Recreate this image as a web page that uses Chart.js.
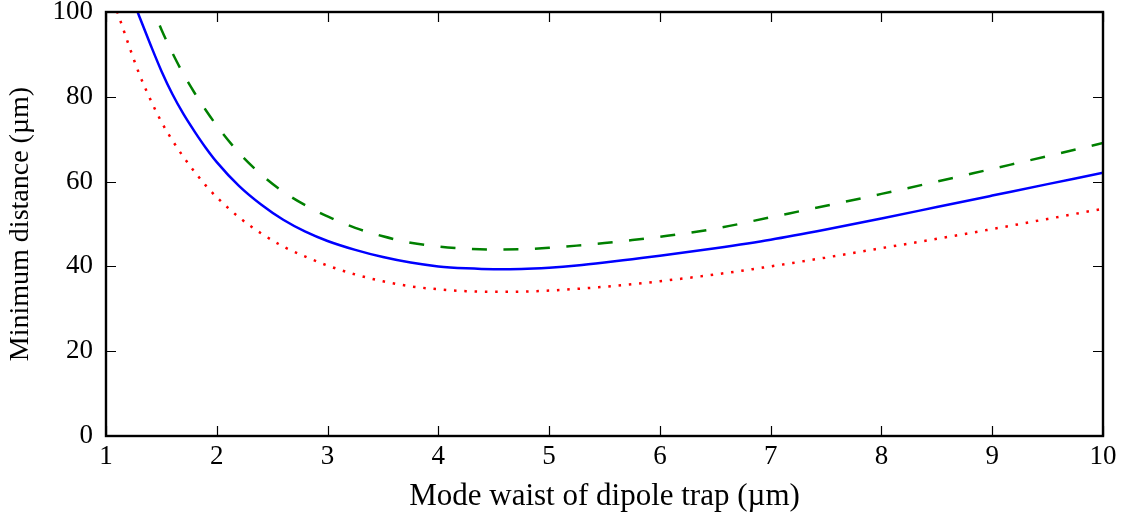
<!DOCTYPE html>
<html>
<head>
<meta charset="utf-8">
<script src="https://cdn.jsdelivr.net/npm/chart.js@4/dist/chart.umd.min.js"></script>
<style>
	html, body { margin: 0; padding: 0; background: #fff; }
	#wrap { width: 1128px; height: 521px; position: relative; }
</style>
</head>
<body>
<div id="wrap"><canvas id="chart"></canvas></div>
<script>
	'use strict';

	// waist values (µm) where the curves were read
	const blueX = [1.25, 1.3, 1.4, 1.5, 1.6, 1.7, 1.8, 1.9, 2.0, 2.2, 2.4, 2.6, 2.8, 3.0, 3.25, 3.5, 3.75, 4.0, 4.25, 4.5, 4.75, 5.0, 5.25, 5.5, 5.75, 6.0, 6.5, 7.0, 7.5, 8.0, 8.5, 9.0, 9.5, 10];
	const blueY = [102.4, 99.0, 92.4, 86.1, 80.6, 75.9, 71.8, 68.0, 64.6, 59.0, 54.6, 51.0, 48.2, 46.0, 43.9, 42.2, 40.9, 40.0, 39.55, 39.35, 39.4, 39.7, 40.2, 40.9, 41.7, 42.5, 44.3, 46.3, 48.7, 51.3, 54.0, 56.7, 59.4, 62.1];

	const greenX = [1.4, 1.5, 1.6, 1.7, 1.8, 1.9, 2.0, 2.2, 2.4, 2.6, 2.8, 3.0, 3.25, 3.5, 3.75, 4.0, 4.25, 4.5, 4.75, 5.0, 5.25, 5.5, 5.75, 6.0, 6.5, 7.0, 7.5, 8.0, 8.5, 9.0, 9.5, 10];
	const greenY = [102.3, 95.9, 90.3, 85.3, 80.9, 76.9, 73.2, 66.8, 61.7, 57.6, 54.4, 51.8, 49.1, 47.1, 45.6, 44.7, 44.2, 44.0, 44.05, 44.4, 44.9, 45.5, 46.2, 47.0, 48.9, 51.6, 54.3, 57.1, 60.0, 63.0, 66.0, 69.1];

	const redX = [1.1, 1.15, 1.2, 1.3, 1.4, 1.5, 1.6, 1.7, 1.8, 1.9, 2.0, 2.2, 2.4, 2.6, 2.8, 3.0, 3.25, 3.5, 3.75, 4.0, 4.25, 4.5, 4.75, 5.0, 5.25, 5.5, 5.75, 6.0, 6.5, 7.0, 7.5, 8.0, 8.5, 9.0, 9.5, 10];
	const redY = [100.2, 96.4, 92.6, 85.4, 79.4, 74.1, 69.7, 65.8, 62.3, 59.1, 56.3, 51.6, 47.8, 44.7, 42.3, 40.2, 38.1, 36.5, 35.3, 34.6, 34.15, 34.0, 34.05, 34.3, 34.7, 35.2, 35.8, 36.5, 38.1, 40.0, 42.1, 44.3, 46.5, 48.8, 51.2, 53.6];

	const xTicks = [1, 2, 3, 4, 5, 6, 7, 8, 9, 10];
	const yTicks = [0, 20, 40, 60, 80, 100];

	const pairs = (xs, ys) => xs.map((x, i) => ({ x, y: ys[i] }));

	Chart.defaults.font.family = "'Liberation Serif', 'DejaVu Serif', serif";
	Chart.defaults.color = '#000';

	// matplotlib-style box with inward ticks on all four sides
	const frame = {
		id: 'frame',
		afterDraw(chart) {
			const { ctx, chartArea: a, scales } = chart;
			const len = 10;
			ctx.save();
			ctx.strokeStyle = '#000';
			ctx.lineWidth = 1.2;
			ctx.beginPath();
			xTicks.forEach((v) => {
				const px = Math.round(scales.x.getPixelForValue(v)) + 0.5;
				ctx.moveTo(px, a.bottom); ctx.lineTo(px, a.bottom - len);
				ctx.moveTo(px, a.top); ctx.lineTo(px, a.top + len);
			});
			yTicks.forEach((v) => {
				const py = Math.round(scales.y.getPixelForValue(v)) + 0.5;
				ctx.moveTo(a.left, py); ctx.lineTo(a.left + len, py);
				ctx.moveTo(a.right, py); ctx.lineTo(a.right - len, py);
			});
			ctx.stroke();
			ctx.lineWidth = 2.4;
			ctx.strokeRect(a.left, a.top, a.right - a.left, a.bottom - a.top);
			ctx.restore();
		},
	};

	const line = (data, color, dash, offset) => ({
		data,
		borderColor: color,
		borderWidth: 2.5,
		borderDash: dash,
		borderDashOffset: offset || 0,
		borderCapStyle: 'butt',
		pointRadius: 0,
		cubicInterpolationMode: 'monotone',
		fill: false,
	});

	new Chart(document.getElementById('chart'), {
		type: 'line',
		data: {
			datasets: [
				line(pairs(greenX, greenY), '#008000', [15, 16.5], 6.5),
				line(pairs(blueX, blueY), '#0000ff', []),
				line(pairs(redX, redY), '#ff0000', [2.5, 7.8]),
			],
		},
		options: {
			responsive: true,
			maintainAspectRatio: false,
			animation: false,
			events: [],
			layout: { padding: { top: 12, right: 25, left: 0, bottom: 0 } },
			plugins: { legend: { display: false }, tooltip: { enabled: false } },
			scales: {
				x: {
					type: 'linear',
					min: 1,
					max: 10,
					afterBuildTicks: (s) => { s.ticks = xTicks.map((v) => ({ value: v })); },
					afterFit: (s) => { s.height = 85; s.paddingLeft = 0; s.paddingRight = 0; },
					grid: { display: false, drawTicks: false },
					border: { display: false },
					ticks: { font: { size: 27 }, padding: 5, maxRotation: 0 },
					title: { display: true, text: 'Mode waist of dipole trap (µm)', font: { size: 31 }, padding: { top: 0, bottom: 6 } },
				},
				y: {
					min: 0,
					max: 100,
					afterBuildTicks: (s) => { s.ticks = yTicks.map((v) => ({ value: v })); },
					afterFit: (s) => { s.width = 106; s.paddingTop = 0; s.paddingBottom = 0; },
					grid: { display: false, drawTicks: false },
					border: { display: false },
					ticks: { font: { size: 27 }, padding: 13 },
					title: { display: true, text: 'Minimum distance (µm)', font: { size: 28 }, padding: { top: 4, bottom: 0 } },
				},
			},
		},
		plugins: [frame],
	});
</script>
</body>
</html>
